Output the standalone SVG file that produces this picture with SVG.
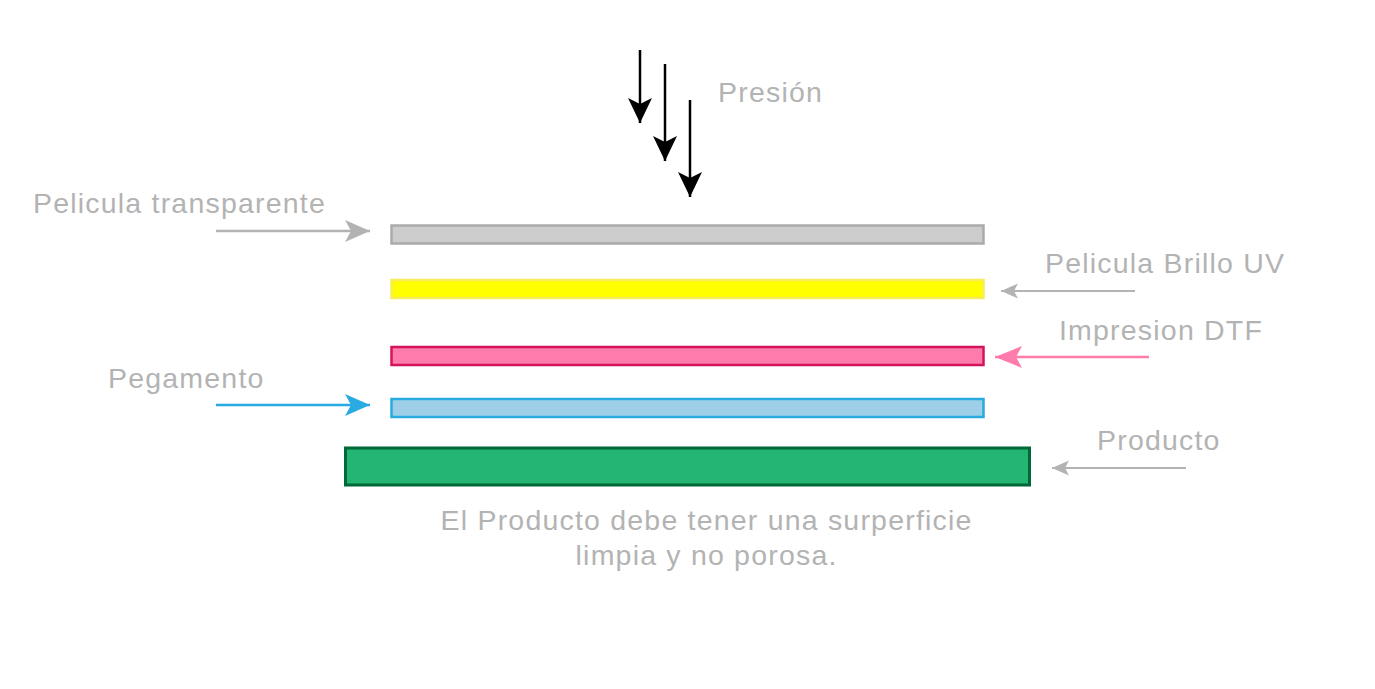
<svg xmlns="http://www.w3.org/2000/svg" width="1375" height="689" viewBox="0 0 1375 689">
<style>
text{font-family:"Liberation Sans",Arial,sans-serif;fill:#b3b3b3;font-size:28.5px;letter-spacing:1.2px}
.bar{stroke-width:2.5}
</style>
<defs>
<marker id="hBlack" markerUnits="userSpaceOnUse" markerWidth="26" markerHeight="24" refX="25" refY="12" orient="auto"><path d="M0,0 L25,12 L0,24 L6,12 Z" fill="#000"/></marker>
<marker id="hGrayL" markerUnits="userSpaceOnUse" markerWidth="26" markerHeight="24" refX="25" refY="12" orient="auto"><path d="M0,1 L25,12 L0,23 L6,12 Z" fill="#b3b3b3"/></marker>
<marker id="hBlue" markerUnits="userSpaceOnUse" markerWidth="26" markerHeight="24" refX="25" refY="12" orient="auto"><path d="M0,1 L25,12 L0,23 L6,12 Z" fill="#29abe2"/></marker>
<marker id="hPink" markerUnits="userSpaceOnUse" markerWidth="28" markerHeight="24" refX="27" refY="12" orient="auto"><path d="M0,1 L27,12 L0,23 L6,12 Z" fill="#ff7bac"/></marker>
<marker id="hGrayS" markerUnits="userSpaceOnUse" markerWidth="18" markerHeight="16" refX="17" refY="8" orient="auto"><path d="M0,0.5 L17,8 L0,15.5 L4,8 Z" fill="#b3b3b3"/></marker>
</defs>
<g id="connectors" fill="none">
<line x1="640" y1="50" x2="640" y2="123" stroke="#000" stroke-width="2.5" marker-end="url(#hBlack)"/>
<line x1="665" y1="64" x2="665" y2="161" stroke="#000" stroke-width="2.5" marker-end="url(#hBlack)"/>
<line x1="690" y1="100" x2="690" y2="197" stroke="#000" stroke-width="2.5" marker-end="url(#hBlack)"/>
<line x1="216" y1="231" x2="370" y2="231" stroke="#b3b3b3" stroke-width="2.5" marker-end="url(#hGrayL)"/>
<line x1="216" y1="405" x2="370" y2="405" stroke="#29abe2" stroke-width="2.5" marker-end="url(#hBlue)"/>
<line x1="1135" y1="291" x2="1001" y2="291" stroke="#b3b3b3" stroke-width="2" marker-end="url(#hGrayS)"/>
<line x1="1149" y1="357" x2="995" y2="357" stroke="#ff7bac" stroke-width="2.5" marker-end="url(#hPink)"/>
<line x1="1186" y1="468" x2="1052" y2="468" stroke="#b3b3b3" stroke-width="2" marker-end="url(#hGrayS)"/>
</g>
<g id="presion"><text x="718" y="102">Presión</text></g>
<g id="pelicula-transparente">
<rect class="bar" x="391.5" y="225.5" width="592" height="18" fill="#cccccc" stroke="#aaaaaa"/>
<text x="33" y="213">Pelicula transparente</text>
</g>
<g id="pelicula-brillo-uv">
<rect class="bar" x="391.5" y="280" width="592" height="18" fill="#ffff00" stroke="#f7ec5a"/>
<text x="1045" y="273">Pelicula Brillo UV</text>
</g>
<g id="impresion-dtf">
<rect class="bar" x="391.5" y="347" width="592" height="18" fill="#ff7bac" stroke="#d4145a"/>
<text x="1059" y="340">Impresion DTF</text>
</g>
<g id="pegamento">
<rect class="bar" x="391.5" y="399" width="592" height="18" fill="#9dd0e6" stroke="#29abe2"/>
<text x="108" y="388">Pegamento</text>
</g>
<g id="producto">
<rect x="345.5" y="448" width="684" height="37" fill="#22b573" stroke="#006837" stroke-width="3"/>
<text x="1097" y="450">Producto</text>
</g>
<g id="nota">
<text x="706.6" y="530" text-anchor="middle">El Producto debe tener una surperficie</text>
<text x="706.6" y="565" text-anchor="middle">limpia y no porosa.</text>
</g>
</svg>
